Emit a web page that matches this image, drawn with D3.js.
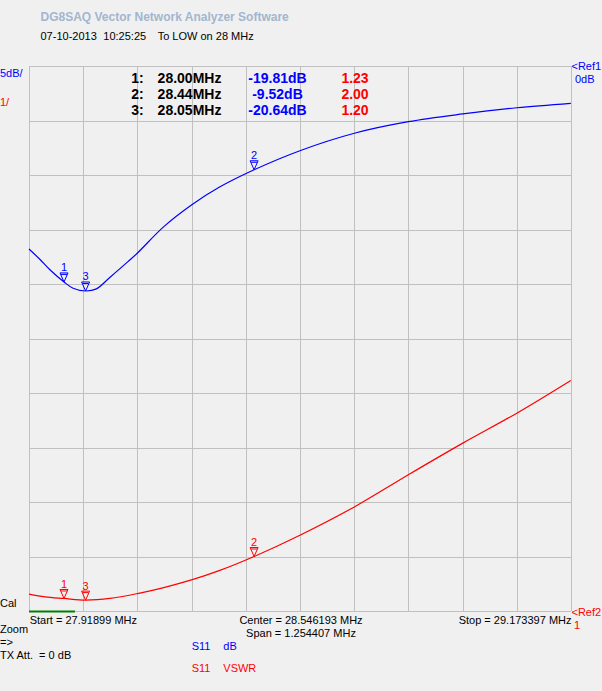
<!DOCTYPE html>
<html>
<head>
<meta charset="utf-8">
<script src="https://cdn.jsdelivr.net/npm/d3@7"></script>
<style>
  html, body { margin: 0; padding: 0; background: #f0f0f0; }
  svg { display: block; }
  text { font-family: "Liberation Sans", Arial, sans-serif; white-space: pre; }
</style>
</head>
<body>
<svg id="chart" width="602" height="691"></svg>
<script>
// ---- data ----
const startFreq = 27.91899;
const stopFreq = 29.173397;
const centerFreq = 28.546193;
const spanFreq = 1.254407;

// S11 in dB (blue trace)
const dbFreqs = [27.919, 27.944, 27.968, 28.000, 28.021, 28.050, 28.075, 28.106, 28.148, 28.170,
                 28.231, 28.295, 28.359, 28.440, 28.546, 28.672, 28.797, 28.923, 29.048, 29.173];
const dbValues = [-16.79, -17.73, -18.72, -19.81, -20.39, -20.64, -20.45, -19.40, -17.95, -17.16,
                  -14.74, -12.75, -11.13, -9.52, -7.77, -6.17, -5.11, -4.40, -3.83, -3.42];

// S11 VSWR (red trace)
const vswrFreqs = [27.919, 27.956, 28.000, 28.050, 28.106, 28.170, 28.231, 28.295, 28.359, 28.440,
                   28.546, 28.672, 28.797, 28.923, 29.048, 29.173];
const vswrValues = [1.31, 1.26, 1.23, 1.20, 1.23, 1.32, 1.43, 1.57, 1.74, 2.00,
                    2.39, 2.91, 3.50, 4.08, 4.63, 5.23];

// markers
const markerIds = ["1", "2", "3"];
const markerFreqs = [28.00, 28.44, 28.05];
const markerDb = [-19.81, -9.52, -20.64];
const markerVswr = [1.23, 2.00, 1.20];

// axis settings
const dbPerDiv = 5, dbRef = 0;
const vswrPerDiv = 1, vswrRef = 1;
const divisions = 10;

// ---- layout ----
const L = 29, R = 571, T = 66, B = 611;
const svg = d3.select("#chart");
svg.append("rect").attr("width", 602).attr("height", 691).attr("fill", "#f0f0f0");

const x = d3.scaleLinear().domain([startFreq, stopFreq]).range([L, R]);
const yDb = d3.scaleLinear().domain([dbRef, dbRef - dbPerDiv * divisions]).range([T, B]);
const yV = d3.scaleLinear().domain([vswrRef, vswrRef + vswrPerDiv * divisions]).range([B, T]);

const gridX = d3.range(divisions + 1).map(i => startFreq + i * spanFreq / divisions);
const gridY = d3.range(divisions + 1).map(i => dbRef - i * dbPerDiv);

const gridColor = "#c0c0c0";
const gx = svg.append("g").attr("transform", `translate(0,${B})`)
  .call(d3.axisBottom(x).tickValues(gridX).tickSize(-(B - T)).tickFormat(""));
gx.select(".domain").remove();
gx.selectAll("line").attr("stroke", gridColor).attr("shape-rendering", "crispEdges");

const gy = svg.append("g").attr("transform", `translate(${L},0)`)
  .call(d3.axisLeft(yDb).tickValues(gridY).tickSize(-(R - L)).tickFormat(""));
gy.select(".domain").remove();
gy.selectAll("line").attr("stroke", gridColor).attr("shape-rendering", "crispEdges");

// green line at bottom left
svg.append("line").attr("x1", x(startFreq)).attr("x2", x(startFreq) + 46)
  .attr("y1", B + 0.5).attr("y2", B + 0.5)
  .attr("stroke", "#008000").attr("stroke-width", 2);

// traces
const lineDb = d3.line().x((d, i) => x(dbFreqs[i])).y(d => yDb(d)).curve(d3.curveCatmullRom.alpha(0.5));
const lineV = d3.line().x((d, i) => x(vswrFreqs[i])).y(d => yV(d)).curve(d3.curveCatmullRom.alpha(0.5));

svg.append("path").attr("d", lineDb(dbValues)).attr("fill", "none")
  .attr("stroke", "#0000ff").attr("stroke-width", 1.2);
svg.append("path").attr("d", lineV(vswrValues)).attr("fill", "none")
  .attr("stroke", "#ff0000").attr("stroke-width", 1.2);

// markers
function drawMarkers(yScale, values, color) {
  const g = svg.append("g");
  markerIds.forEach((id, i) => {
    const mx = x(markerFreqs[i]);
    const my = yScale(values[i]);
    g.append("path")
      .attr("d", `M${mx - 4},${my - 9} L${mx + 4},${my - 9} L${mx},${my} Z M${mx - 3},${my - 7.5} L${mx + 3},${my - 7.5}`)
      .attr("fill", "none").attr("stroke", color).attr("stroke-width", 1);
    g.append("text").attr("x", mx).attr("y", my - 10.5)
      .attr("text-anchor", "middle").attr("font-size", 11).attr("fill", color).text(id);
  });
}
drawMarkers(yDb, markerDb, "#0000ff");
drawMarkers(yV, markerVswr, "#ff0000");

// ---- texts ----
svg.append("text").attr("x", 40.5).attr("y", 21).attr("font-size", 12).attr("font-weight", "bold")
  .attr("fill", "#a2b6cf").text("DG8SAQ Vector Network Analyzer Software");
svg.append("text").attr("x", 40.5).attr("y", 40).attr("font-size", 11).attr("fill", "#000").text("07-10-2013");
svg.append("text").attr("x", 103.3).attr("y", 40).attr("font-size", 11).attr("fill", "#000").text("10:25:25");
svg.append("text").attr("x", 157.7).attr("y", 40).attr("font-size", 11).attr("fill", "#000").text("To LOW on 28 MHz");

svg.append("text").attr("x", 0).attr("y", 76.5).attr("font-size", 11).attr("fill", "#0000ff").text("5dB/");
svg.append("text").attr("x", 0).attr("y", 106).attr("font-size", 11).attr("fill", "#ff0000").text("1/");

// marker table
const fmtF = d3.format(".2f");
markerIds.forEach((id, i) => {
  const by = 82.5 + i * 16;
  const t = (xx, s, c) => svg.append("text").attr("x", xx).attr("y", by).attr("text-anchor", "middle")
    .attr("font-size", 14).attr("font-weight", "bold").attr("fill", c).text(s);
  t(137.5, id + ":", "#000");
  t(189.5, fmtF(markerFreqs[i]) + "MHz", "#000");
  t(277.5, markerDb[i].toFixed(2) + "dB", "#0000ff");
  t(355, fmtF(markerVswr[i]), "#ff0000");
});

// right labels
svg.append("text").attr("x", 571.5).attr("y", 69.5).attr("font-size", 11).attr("fill", "#0000ff").text("<Ref1");
svg.append("text").attr("x", 575).attr("y", 82.5).attr("font-size", 11).attr("fill", "#0000ff").text("0dB");
svg.append("text").attr("x", 571.5).attr("y", 616).attr("font-size", 11).attr("fill", "#ff0000").text("<Ref2");
svg.append("text").attr("x", 574).attr("y", 628.5).attr("font-size", 11).attr("fill", "#ff0000").text("1");

// bottom labels
svg.append("text").attr("x", 0).attr("y", 607).attr("font-size", 11).attr("fill", "#000").text("Cal");
svg.append("text").attr("x", 29.7).attr("y", 624).attr("font-size", 11).attr("fill", "#000")
  .text("Start = " + startFreq.toFixed(5) + " MHz");
svg.append("text").attr("x", 301).attr("y", 624).attr("font-size", 11).attr("text-anchor", "middle").attr("fill", "#000")
  .text("Center = " + centerFreq.toFixed(6) + " MHz");
svg.append("text").attr("x", 301).attr("y", 637).attr("font-size", 11).attr("text-anchor", "middle").attr("fill", "#000")
  .text("Span = " + spanFreq.toFixed(6) + " MHz");
svg.append("text").attr("x", 571.5).attr("y", 624).attr("font-size", 11).attr("text-anchor", "end").attr("fill", "#000")
  .text("Stop = " + stopFreq.toFixed(6) + " MHz");
svg.append("text").attr("x", 0).attr("y", 633).attr("font-size", 11).attr("fill", "#000").text("Zoom");
svg.append("text").attr("x", 0).attr("y", 646).attr("font-size", 11).attr("fill", "#000").text("=>");
svg.append("text").attr("x", 0).attr("y", 658.5).attr("font-size", 11).attr("fill", "#000").text("TX Att.  = 0 dB");

svg.append("text").attr("x", 191.7).attr("y", 649.5).attr("font-size", 11).attr("fill", "#0000ff").text("S11");
svg.append("text").attr("x", 223.3).attr("y", 649.5).attr("font-size", 11).attr("fill", "#0000ff").text("dB");
svg.append("text").attr("x", 191.7).attr("y", 672).attr("font-size", 11).attr("fill", "#ff0000").text("S11");
svg.append("text").attr("x", 223.3).attr("y", 672).attr("font-size", 11).attr("fill", "#ff0000").text("VSWR");
</script>
</body>
</html>
